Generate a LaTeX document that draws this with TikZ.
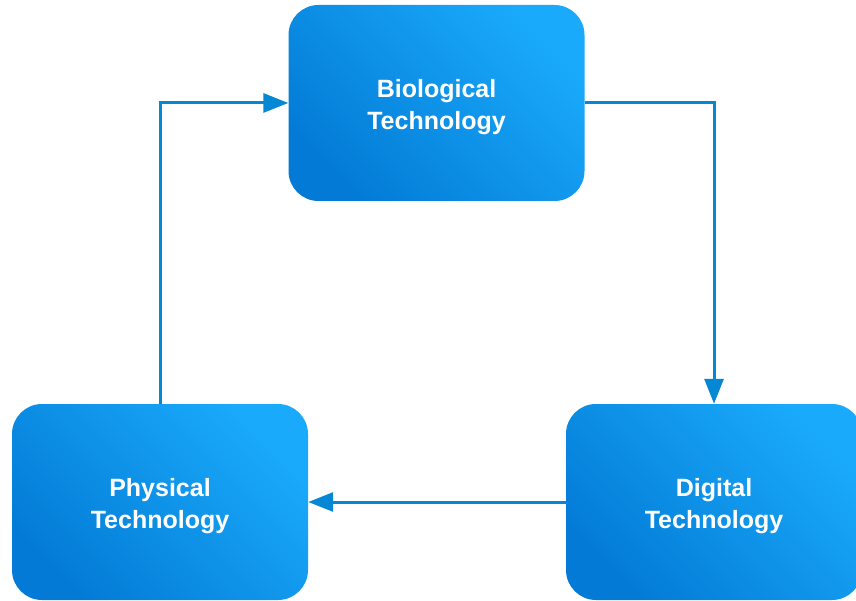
\documentclass[tikz,border=0pt]{standalone}
\usepackage{fontspec}
\setmainfont{Liberation Sans}
\usepackage{tikz}
\usetikzlibrary{arrows.meta}
\usetikzlibrary{calc}
\definecolor{boxdark}{HTML}{037BD6}
\definecolor{boxlight}{HTML}{1AAAFB}
\definecolor{linkblue}{HTML}{0487D4}
\tikzset{
  techbox/.style={rectangle, rounded corners=30pt, minimum width=296pt, minimum height=196pt,
    inner sep=0pt, bottom color=boxdark, top color=boxlight, shading angle=-45},
  techtext/.style={text=white, align=center, yshift=-4pt,
    font=\fontsize{25}{32}\selectfont\bfseries},
  link/.style={linkblue, line width=3pt, -{Triangle[length=25pt,width=19pt]}}
}

\begin{document}
\begin{tikzpicture}[x=1pt,y=1pt]
\useasboundingbox (0,0) rectangle (856,600);
\node[techbox, label={[techtext]center:Biological\\Technology}] (bio) at (436.5,497) {};
\node[techbox, label={[techtext]center:Physical\\Technology}] (phys) at (160,98) {};
\node[techbox, label={[techtext]center:Digital\\Technology}] (dig) at (714,98) {};
\draw[link] (phys.north) |- (bio.west);
\draw[link] (bio.east) -| (dig.north);
\draw[link] (dig.west) -- (phys.east);
\end{tikzpicture}
\end{document}
